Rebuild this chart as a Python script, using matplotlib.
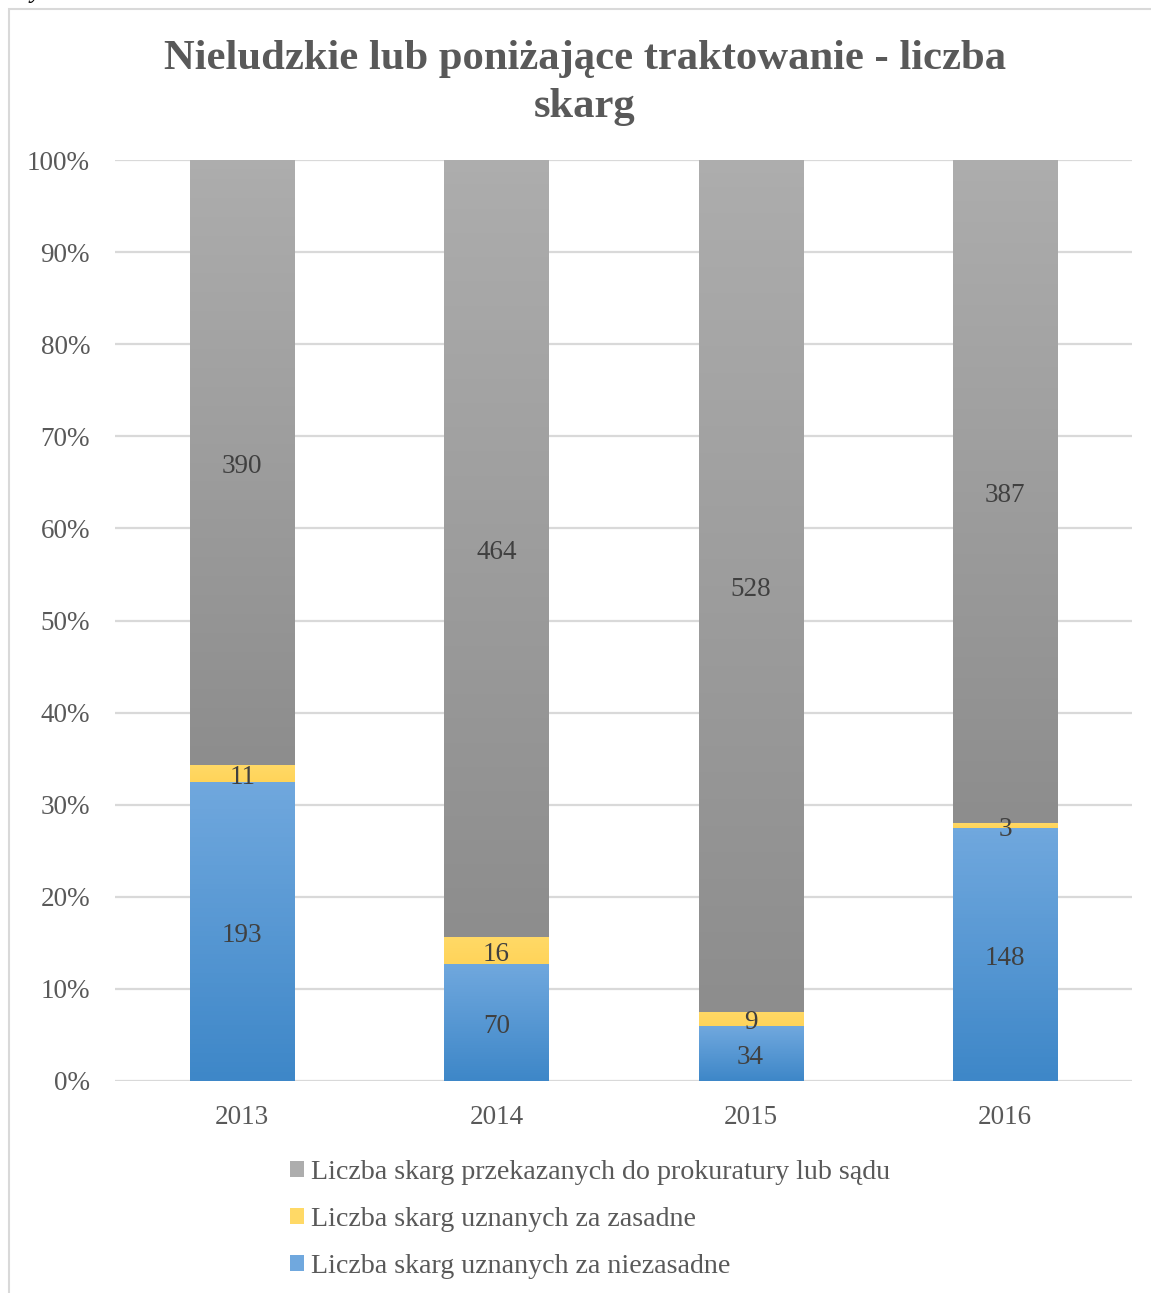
import numpy as np
import matplotlib.pyplot as plt
import matplotlib.transforms as mtransforms
from matplotlib.patches import Rectangle
from matplotlib.colors import LinearSegmentedColormap

plt.rcParams['font.family'] = ['Liberation Serif', 'DejaVu Serif']

W, H = 1151, 1293
years = ['2013', '2014', '2015', '2016']
niezasadne = [193, 70, 34, 148]
zasadne = [11, 16, 9, 3]
przekazane = [390, 464, 528, 387]

labels = ['Liczba skarg uznanych za niezasadne',
          'Liczba skarg uznanych za zasadne',
          'Liczba skarg przekazanych do prokuratury lub sądu']
# (top colour, bottom colour) for each series
grads = [('#70a8de', '#3e87c8'), ('#ffd966', '#ffd45a'), ('#adadad', '#8d8d8d')]

def px(x, y):
  return x / W, 1 - y / H

fig = plt.figure(figsize=(W / 100, H / 100), dpi=100)
ax = fig.add_axes([px(115, 0)[0], px(0, 1081)[1], (1132 - 115) / W, (1081 - 160) / H])

# chart border and caption above
fig.patches.append(Rectangle(px(9, 1400), 1.2, (1400 - 9) / H, transform=fig.transFigure,
                             fill=False, edgecolor='#d9d9d9', linewidth=1.5))
fig.text(px(12, 0)[0], px(0, -2)[1], 'Wykres 4.', fontsize=18, style='italic',
         va='baseline', color='black')

# data labels sit a few pixels low, as in Word
lab_off = mtransforms.offset_copy(ax.transData, fig=fig, x=0, y=-4, units='dots')

series = [niezasadne, zasadne, przekazane]
totals = np.sum(series, axis=0)
x = np.arange(len(years))
bottom = np.zeros(len(years))
handles = []
for vals, lab, (c1, c2) in zip(series, labels, grads):
  share = np.array(vals) / totals
  bars = ax.bar(x, share, 0.41, bottom=bottom, color=c1, label=lab, zorder=2)
  cmap = LinearSegmentedColormap.from_list('g', [c2, c1])
  for b, v in zip(bars, vals):
    x0, y0 = b.get_x(), b.get_y()
    im = ax.imshow(np.linspace(0, 1, 64).reshape(-1, 1), cmap=cmap, origin='lower',
                   extent=[x0, x0 + b.get_width(), y0, y0 + b.get_height()],
                   aspect='auto', zorder=3)
    im.set_clip_path(b)
    ax.text(x0 + b.get_width() / 2, y0 + b.get_height() / 2, str(v), transform=lab_off,
            ha='center', va='center', fontsize=19.5, color='#404040', zorder=4)
  handles.append(bars)
  bottom += share

ax.set_xlim(-0.5, 3.5)
ax.set_ylim(0, 1)
ax.set_xticks(x)
ax.set_xticklabels(years)
ax.set_yticks(np.arange(0, 1.01, 0.1))
ax.set_yticklabels(['%d%%' % v for v in range(0, 101, 10)])
ax.tick_params(length=0, labelsize=19.5, labelcolor='#595959')
ax.tick_params(axis='y', pad=18)
ax.tick_params(axis='x', pad=17.5)
ax.grid(axis='y', color='#d9d9d9', linewidth=1.6, zorder=0)
ax.set_axisbelow(True)
for s in ax.spines.values():
  s.set_visible(False)

fig.text(px(585, 0)[0], px(0, 83)[1], 'Nieludzkie lub poniżające traktowanie - liczba\nskarg',
         ha='center', va='center', fontsize=30.7, fontweight='bold', color='#595959',
         linespacing=1.32)

fig.legend(handles[::-1], labels[::-1], loc='upper left', bbox_to_anchor=px(279, 1149),
           frameon=False, fontsize=20.2, labelcolor='#595959', handlelength=0.5,
           handleheight=0.5, handletextpad=0.25, labelspacing=0.78, borderaxespad=0)

plt.savefig('out.png', dpi=100)
